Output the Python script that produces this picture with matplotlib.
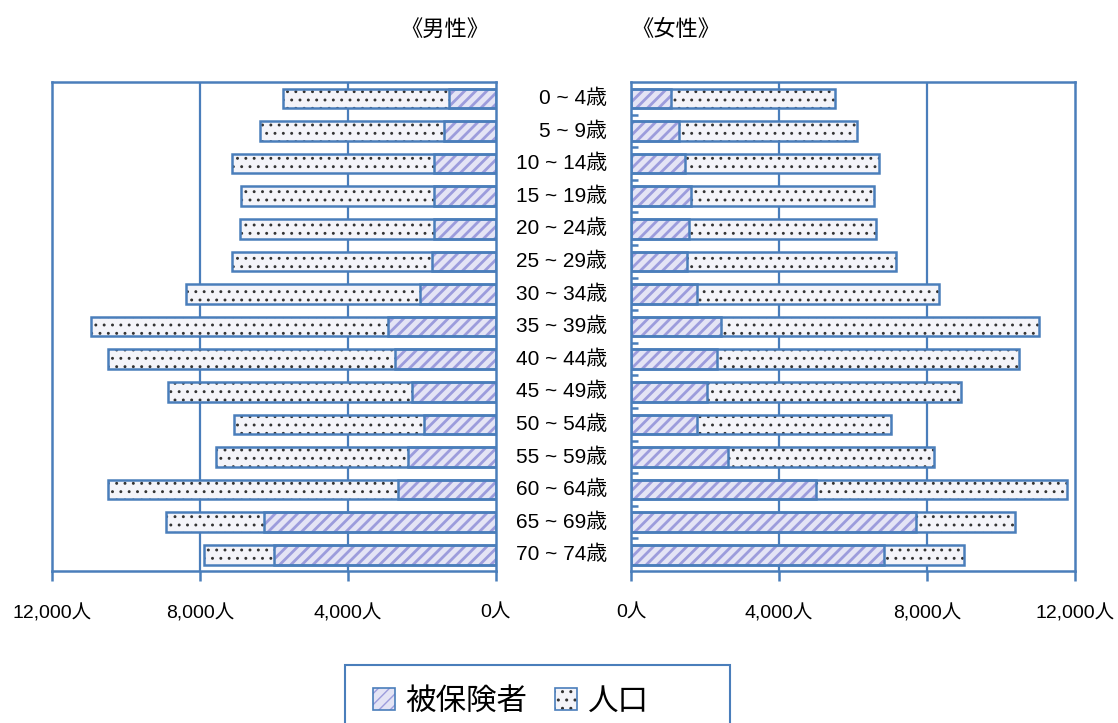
import matplotlib
matplotlib.use("Agg")
import matplotlib.pyplot as plt
from matplotlib.patches import Patch, Rectangle
from matplotlib import transforms

plt.rcParams['font.family'] = ['Liberation Sans', 'Noto Sans CJK JP']

# 年齢階級
ages = ['0 ~ 4歳', '5 ~ 9歳', '10 ~ 14歳', '15 ~ 19歳', '20 ~ 24歳', '25 ~ 29歳',
        '30 ~ 34歳', '35 ~ 39歳', '40 ~ 44歳', '45 ~ 49歳', '50 ~ 54歳',
        '55 ~ 59歳', '60 ~ 64歳', '65 ~ 69歳', '70 ~ 74歳']

# 男性
male_pop = [5760, 6380, 7140, 6890, 6920, 7140, 8380, 10950, 10490, 8860,
            7080, 7570, 10490, 8920, 7890]
male_ins = [1270, 1410, 1680, 1680, 1680, 1730, 2050, 2920, 2730, 2270,
            1950, 2380, 2650, 6270, 6000]

# 女性
female_pop = [5510, 6110, 6700, 6570, 6620, 7160, 8320, 11030, 10490, 8920,
              7030, 8190, 11780, 10380, 9000]
female_ins = [1080, 1300, 1460, 1620, 1570, 1510, 1780, 2430, 2320, 2050,
              1780, 2620, 5000, 7700, 6840]

xticks = [0, 4000, 8000, 12000]
xticklabels = ['0人', '4,000人', '8,000人', '12,000人']

blue = '#4A7EBB'
stripe = '#9C9CDC'
ins_bg = '#E4E4F5'
pop_bg = '#F4F4F9'
dot = '#333333'

DOT_LW = 0.9
STRIPE_LW = 2.0

fig = plt.figure(figsize=(11.18, 7.23), dpi=100)
axL = fig.add_axes([0.0465, 0.2102, 0.397, 0.6763])
axR = fig.add_axes([0.5644, 0.2102, 0.397, 0.6763])

y = list(range(len(ages)))
h = 0.6


def draw_bars(ax, pop, ins):
    # 人口 (点)
    with plt.rc_context({'hatch.linewidth': DOT_LW}):
        ax.barh(y, pop, height=h, color=pop_bg, edgecolor=dot, hatch='..',
                linewidth=0, zorder=3)
    ax.barh(y, pop, height=h, fill=False, edgecolor=blue, linewidth=1.8, zorder=5)
    # 被保険者 (斜線)
    with plt.rc_context({'hatch.linewidth': STRIPE_LW}):
        ax.barh(y, ins, height=h, color=ins_bg, edgecolor=stripe, hatch='///',
                linewidth=0, zorder=4)
    ax.barh(y, ins, height=h, fill=False, edgecolor=blue, linewidth=1.8, zorder=5)


draw_bars(axL, male_pop, male_ins)
draw_bars(axR, female_pop, female_ins)

for ax in (axL, axR):
    ax.set_xlim(0, 12000)
    ax.set_ylim(len(ages) - 0.5, -0.5)
    for s in ax.spines.values():
        s.set_color(blue)
        s.set_linewidth(1.8)
    ax.set_xticks(xticks)
    ax.set_xticklabels(xticklabels, fontsize=14)
    ax.tick_params(axis='x', direction='out', length=7, width=1.8, color=blue, pad=17)
    ax.set_yticks([])
    for v in (4000, 8000):
        ax.axvline(v, color=blue, linewidth=1.6, zorder=1)

axL.invert_xaxis()

# 女性側の区切り目盛
axR.set_yticks([i + 0.5 for i in range(len(ages) - 1)], minor=True)
axR.tick_params(axis='y', which='minor', direction='in', length=5, width=1.8,
                color=blue, left=True)

# 年齢ラベル
trans = transforms.blended_transform_factory(fig.transFigure, axL.transData)
for i, a in enumerate(ages):
    axL.text(607 / 1118, i, a, transform=trans, ha='right', va='center',
             fontsize=15, clip_on=False)

fig.text(445 / 1118, 1 - 30 / 723, '《男性》', ha='center', va='center', fontsize=16)
fig.text(676 / 1118, 1 - 30 / 723, '《女性》', ha='center', va='center', fontsize=16)

# 凡例
fig.patches.append(Rectangle((345 / 1118, -0.02), 385 / 1118, 0.02 + 58 / 723,
                             transform=fig.transFigure, facecolor='white',
                             edgecolor=blue, linewidth=1.5))
with plt.rc_context({'hatch.linewidth': STRIPE_LW}):
    h_ins = Patch(facecolor=ins_bg, edgecolor=stripe, hatch='///', linewidth=0)
with plt.rc_context({'hatch.linewidth': DOT_LW}):
    h_pop = Patch(facecolor=pop_bg, edgecolor=dot, hatch='..', linewidth=0)
h_box = Patch(fill=False, edgecolor=blue, linewidth=1.2)
leg = fig.legend(handles=[(h_ins, h_box), (h_pop, h_box)], labels=['被保険者', '人口'],
                 loc='center left', ncol=2,
                 bbox_to_anchor=(373 / 1118, 1 - 702 / 723), fontsize=22,
                 frameon=False, handlelength=0.72, handleheight=0.72,
                 handletextpad=0.35, columnspacing=0.9, borderpad=0,
                 borderaxespad=0)

fig.savefig('out.png', dpi=100)
